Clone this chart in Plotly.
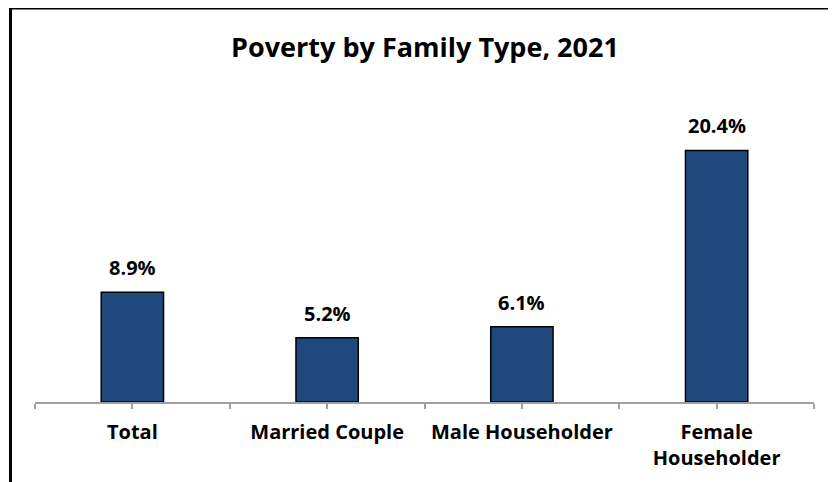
import plotly.graph_objects as go

categories = ["Total", "Married Couple", "Male Householder", "Female<br>Householder"]
poverty_rates = [8.9, 5.2, 6.1, 20.4]
title_text = "Poverty by Family Type, 2021"

FONT = "'Open Sans', sans-serif"
x_pos = list(range(len(categories)))

# page body has an 8px offset; layout coordinates below compensate for it
OFF = 8
W, H = 836, 482
plot_left, plot_right, plot_top, plot_bottom = 35 - OFF, 814 - OFF, 106 - OFF, 402 - OFF
pw = plot_right - plot_left
ph = plot_bottom - plot_top

fig = go.Figure()
fig.add_trace(go.Bar(
    x=x_pos,
    y=poverty_rates,
    marker=dict(color="#1F497D", line=dict(color="#000000", width=1.5)),
    width=0.32,
    hoverinfo="skip",
))

for xv, yv in zip(x_pos, poverty_rates):
    fig.add_annotation(
        x=xv, y=yv, xref="x", yref="y",
        text=f"<b>{yv:.1f}%</b>",
        showarrow=False, yanchor="bottom", yshift=9,
        font=dict(family=FONT, size=20, color="#000000"),
    )

# outer chart border (left and top visible)
bx = (10.5 - OFF - plot_left) / pw
by = (plot_bottom - (8 - OFF)) / ph
fig.add_shape(type="line", xref="paper", yref="paper",
              x0=bx, x1=bx, y0=-0.5, y1=by,
              line=dict(color="#000000", width=3))
fig.add_shape(type="line", xref="paper", yref="paper",
              x0=bx, x1=1.2, y0=by, y1=by,
              line=dict(color="#000000", width=3))

fig.update_layout(
    width=W, height=H,
    margin=dict(l=plot_left, r=W - plot_right, t=plot_top, b=H - plot_bottom),
    paper_bgcolor="white", plot_bgcolor="white",
    showlegend=False,
    title=dict(text=f"<b>{title_text}</b>", x=(425 - OFF) / W, xref="container", xanchor="center",
               y=1 - (48 - OFF) / H, yref="container", yanchor="middle",
               font=dict(family=FONT, size=27, color="#000000")),
    bargap=0.68,
)

fig.update_xaxes(
    range=[-0.5, 3.5],
    tickvals=x_pos, ticktext=[f"<b>{c}</b>" for c in categories],
    tickfont=dict(family=FONT, size=20, color="#000000"),
    showline=True, linecolor="#A0A0A0", linewidth=1.5,
    ticks="outside", ticklen=5, tickcolor="#A0A0A0", tickwidth=1.5,
    minor=dict(tick0=-0.5, dtick=1, ticks="outside", ticklen=5,
               tickcolor="#A0A0A0", tickwidth=1.5),
    showgrid=False, zeroline=False,
    ticklabelstandoff=6,
)
fig.update_yaxes(
    range=[0, 24], visible=False, showgrid=False, zeroline=False,
)

fig.write_html("out.html")
